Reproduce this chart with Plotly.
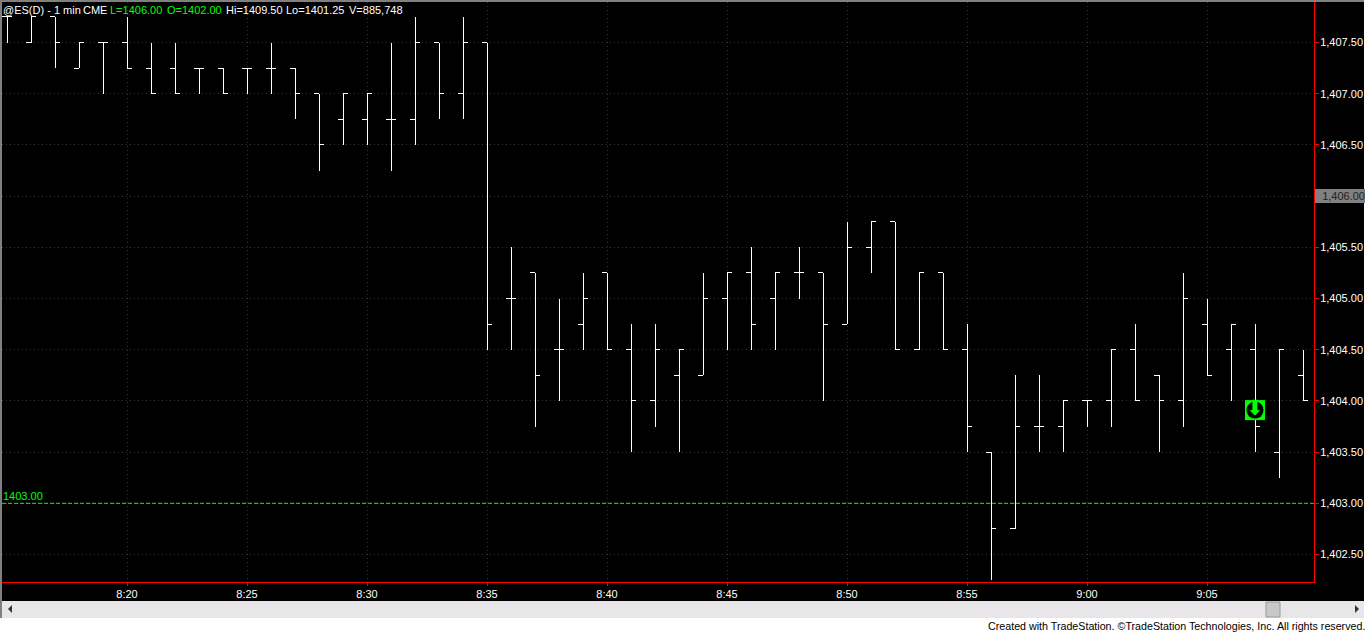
import plotly.graph_objects as go

times = ["8:15","8:16","8:17","8:18","8:19","8:20","8:21","8:22","8:23","8:24","8:25","8:26","8:27","8:28","8:29",
         "8:30","8:31","8:32","8:33","8:34","8:35","8:36","8:37","8:38","8:39","8:40","8:41","8:42","8:43","8:44",
         "8:45","8:46","8:47","8:48","8:49","8:50","8:51","8:52","8:53","8:54","8:55","8:56","8:57","8:58","8:59",
         "9:00","9:01","9:02","9:03","9:04","9:05","9:06","9:07","9:08","9:09"]
opens = [1407.75,1407.5,1407.75,1407.25,1407.5,1407.5,1407.25,1407.25,1407.25,1407.25,1407.25,1407.25,1407.25,1407.0,1406.75,
         1406.75,1406.75,1406.75,1407.5,1407.0,1407.5,1405.0,1405.25,1404.5,1404.75,1405.25,1404.5,1404.0,1404.25,1404.25,
         1405.0,1405.25,1405.0,1405.25,1405.25,1404.75,1405.5,1405.75,1404.5,1405.25,1404.5,1403.5,1402.75,1403.75,1403.75,
         1404.0,1404.0,1404.5,1404.25,1404.0,1404.75,1404.5,1404.5,1403.5,1404.25]
highs = [1407.75,1407.75,1407.75,1407.5,1407.5,1407.75,1407.5,1407.5,1407.25,1407.25,1407.25,1407.5,1407.25,1407.0,1407.0,
         1407.0,1407.5,1407.75,1407.5,1407.75,1407.5,1405.5,1405.25,1405.0,1405.25,1405.25,1404.75,1404.75,1404.5,1405.25,
         1405.25,1405.5,1405.25,1405.5,1405.25,1405.75,1405.75,1405.75,1405.25,1405.25,1404.75,1403.5,1404.25,1404.25,1404.0,
         1404.0,1404.5,1404.75,1404.25,1405.25,1405.0,1404.75,1404.75,1404.5,1404.5]
lows = [1407.5,1407.5,1407.25,1407.25,1407.0,1407.25,1407.0,1407.0,1407.0,1407.0,1407.0,1407.0,1406.75,1406.25,1406.5,
        1406.5,1406.25,1406.5,1406.75,1406.75,1404.5,1404.5,1403.75,1404.0,1404.5,1404.5,1403.5,1403.75,1403.5,1404.25,
        1404.5,1404.5,1404.5,1405.0,1404.0,1404.75,1405.25,1404.5,1404.5,1404.5,1403.5,1402.25,1402.75,1403.5,1403.5,
        1403.75,1403.75,1404.0,1403.5,1403.75,1404.25,1404.0,1403.5,1403.25,1404.0]
closes = [1407.75,1407.75,1407.5,1407.5,1407.5,1407.25,1407.0,1407.0,1407.25,1407.0,1407.25,1407.25,1407.0,1406.5,1407.0,
          1407.0,1406.75,1407.5,1407.0,1407.5,1404.75,1405.0,1404.25,1404.5,1405.0,1404.5,1404.0,1404.5,1404.5,1405.0,
          1405.25,1404.75,1405.25,1405.25,1404.75,1405.5,1405.75,1404.5,1405.25,1404.5,1403.75,1402.75,1403.75,1403.75,1404.0,
          1404.0,1404.5,1404.0,1404.0,1405.0,1404.25,1404.75,1403.75,1404.5,1404.0]

x_tick_labels = ["8:20","8:25","8:30","8:35","8:40","8:45","8:50","8:55","9:00","9:05"]
y_tick_values = [1402.5,1403.0,1403.5,1404.0,1404.5,1405.0,1405.5,1406.0,1406.5,1407.0,1407.5]
y_tick_labels = ["1,402.50","1,403.00","1,403.50","1,404.00","1,404.50","1,405.00","1,405.50","",
                 "1,406.50","1,407.00","1,407.50"]
last_price_level = 1406.00
last_price_label = "1,406.00"
reference_level = 1403.00
reference_label = "1403.00"
signal_time = "9:07"
signal_price = 1403.91
signal_glyph = "\u2b07"

def minute(t):
    h, m = t.split(":")
    return int(h) * 60 + int(m)

X_RANGE = [minute("8:20") + (2 - 127) / 24, minute("8:20") + (1314 - 127) / 24]
Y_RANGE = [1407.5 - (582 - 42.5) / 102.4, 1407.5 + (42.5 - 2) / 102.4]
FONT = "Liberation Sans"
GRID = "#333333"

def px_x(p):
    return (p - 2) / 1312
def px_y(p):
    return (582 - p) / 580

fig = go.Figure()
fig.add_trace(go.Ohlc(
    x=[minute(t) for t in times], open=opens, high=highs, low=lows, close=closes,
    increasing=dict(line=dict(color="#ffffff", width=1)),
    decreasing=dict(line=dict(color="#ffffff", width=1)),
    tickwidth=0.2, hoverinfo="skip", showlegend=False,
))
sx = [minute(signal_time)]
fig.add_trace(go.Scatter(x=sx, y=[signal_price], mode="markers", hoverinfo="skip", showlegend=False,
    marker=dict(symbol="square", size=20, color="#00ff00", line=dict(width=0))))
fig.add_trace(go.Scatter(x=sx, y=[signal_price], mode="markers", hoverinfo="skip", showlegend=False,
    marker=dict(symbol="circle", size=17, color="#000000", line=dict(width=0))))
fig.add_trace(go.Scatter(x=sx, y=[signal_price], mode="text", hoverinfo="skip", showlegend=False,
    text=[signal_glyph], textposition="middle center",
    textfont=dict(family="DejaVu Sans", size=21, color="#00ff00")))

shapes = [
    dict(type="line", xref="paper", yref="y", x0=0, x1=1, y0=reference_level, y1=reference_level,
         line=dict(color="#00ff00", width=1, dash="4px,2px"), layer="above"),
    # window chrome
    dict(type="rect", xref="paper", yref="paper", x0=px_x(0), x1=px_x(2), y0=px_y(618), y1=px_y(0),
         fillcolor="#808080", line_width=0, layer="below"),
    dict(type="rect", xref="paper", yref="paper", x0=px_x(0), x1=px_x(1366), y0=px_y(2), y1=px_y(0),
         fillcolor="#808080", line_width=0, layer="below"),
    dict(type="rect", xref="paper", yref="paper", x0=px_x(1364), x1=px_x(1366), y0=px_y(633), y1=px_y(0),
         fillcolor="#ffffff", line_width=0, layer="below"),
    dict(type="rect", xref="paper", yref="paper", x0=px_x(2), x1=px_x(1364), y0=px_y(618), y1=px_y(601),
         fillcolor="#e9e6e9", line_width=0, layer="below"),
    dict(type="rect", xref="paper", yref="paper", x0=px_x(0), x1=px_x(1366), y0=px_y(633), y1=px_y(618),
         fillcolor="#ffffff", line_width=0, layer="below"),
    dict(type="rect", xref="paper", yref="paper", x0=px_x(1266), x1=px_x(1280), y0=px_y(617), y1=px_y(602),
         fillcolor="#c8c8c8", line=dict(color="#9a9a9a", width=1), layer="below"),
    dict(type="path", xref="paper", yref="paper", layer="below", fillcolor="#333333", line_width=0,
         path=f"M {px_x(8)} {px_y(609)} L {px_x(12)} {px_y(605)} L {px_x(12)} {px_y(613)} Z"),
    dict(type="path", xref="paper", yref="paper", layer="below", fillcolor="#333333", line_width=0,
         path=f"M {px_x(1359)} {px_y(609)} L {px_x(1355)} {px_y(605)} L {px_x(1355)} {px_y(613)} Z"),
]

def note(text, x_px, y_px, color="#ffffff", anchor="left", size=11):
    return dict(text=text, xref="paper", yref="paper", x=px_x(x_px), y=px_y(y_px), xanchor=anchor,
                yanchor="middle", showarrow=False, font=dict(family=FONT, size=size, color=color),
                align="left", borderpad=0, borderwidth=0)

annotations = [
    note("@ES(D) - 1 min", 3, 10),
    note("CME", 83, 10),
    note("L=1406.00", 110, 10, "#00ff00"),
    note("O=1402.00", 167, 10, "#00ff00"),
    note("Hi=1409.50", 226, 10),
    note("Lo=1401.25", 286, 10),
    note("V=885,748", 349, 10),
    note(reference_label, 3, 496, "#00ff00"),
    note("Created with TradeStation. ©TradeStation Technologies, Inc. All rights reserved.", 1365, 626,
         "#000000", "right", 10.7),
    dict(text=last_price_label, xref="paper", yref="y", x=px_x(1315), y=last_price_level, xanchor="left",
         yanchor="middle", showarrow=False, font=dict(family=FONT, size=11, color="#222222"),
         bgcolor="#808080", width=50, height=14, align="right", borderpad=0, borderwidth=0),
]

fig.update_layout(
    width=1366, height=633, autosize=False,
    margin=dict(l=2, r=52, t=2, b=51, pad=0),
    paper_bgcolor="#000000", plot_bgcolor="#000000",
    xaxis=dict(range=X_RANGE, automargin=False, tickmode="array", tickvals=[minute(t) for t in x_tick_labels],
               ticktext=x_tick_labels, showgrid=True, gridcolor=GRID, griddash="1px,3px", gridwidth=1,
               zeroline=False, showline=True, linecolor="#ff0000", linewidth=1, mirror=False,
               ticks="outside", ticklen=3, tickcolor="#ff0000", tickwidth=1, ticklabelstandoff=-1,
               tickfont=dict(family=FONT, size=11, color="#ffffff"), rangeslider=dict(visible=False)),
    yaxis=dict(range=Y_RANGE, automargin=False, side="right", tickmode="array", tickvals=y_tick_values,
               ticktext=y_tick_labels,
               showgrid=True, gridcolor=GRID, griddash="1px,3px", gridwidth=1,
               zeroline=False, showline=True, linecolor="#ff0000", linewidth=1,
               ticks="outside", ticklen=4, tickcolor="#ff0000", tickwidth=1, ticklabelstandoff=-1,
               tickfont=dict(family=FONT, size=11, color="#ffffff")),
    shapes=shapes, annotations=annotations,
)

fig.write_html("out.html", config=dict(displayModeBar=False),
               post_script="document.body.style.margin='0';document.documentElement.style.overflow='hidden';"
                           "var s=document.createElement('style');"
                           "s.textContent='.ohlc path{shape-rendering:crispEdges}';"
                           "document.head.appendChild(s);")
